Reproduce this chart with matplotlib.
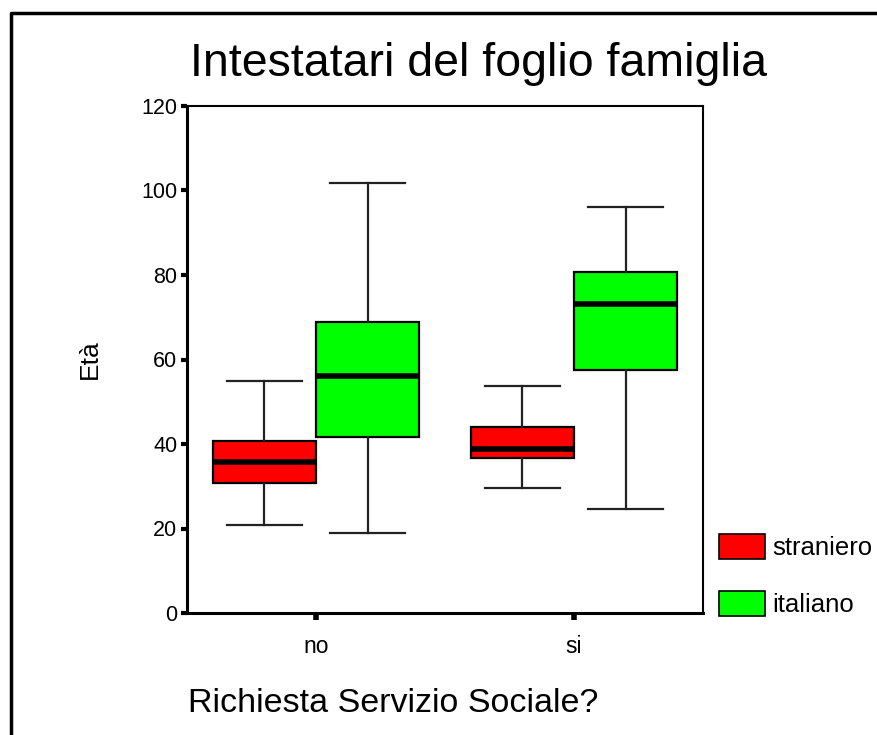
import matplotlib
matplotlib.use("Agg")
import matplotlib.pyplot as plt
from matplotlib.patches import Patch
from matplotlib.lines import Line2D

plt.rcParams['font.family'] = ['Liberation Sans', 'DejaVu Sans']

# Data: age of household heads by social-service request and citizenship
groups = ["no", "si"]
series = ["straniero", "italiano"]
colors = ["#ff0000", "#00ff00"]

whislo = {"straniero": [20.8, 29.6], "italiano": [18.9, 24.6]}
q1     = {"straniero": [30.8, 36.7], "italiano": [41.7, 57.5]}
med    = {"straniero": [35.8, 38.9], "italiano": [56.0, 73.1]}
q3     = {"straniero": [40.7, 44.1], "italiano": [68.8, 80.8]}
whishi = {"straniero": [55.0, 53.8], "italiano": [101.8, 96.0]}

yticks = [0, 20, 40, 60, 80, 100, 120]

fig = plt.figure(figsize=(8.77, 7.35), dpi=100)
ax = fig.add_axes([187/877, 1-613/735, (703-187)/877, (613-106)/735])

offsets = [-0.2, 0.2]
for s, name in enumerate(series):
    stats = []
    for g in range(len(groups)):
        stats.append(dict(whislo=whislo[name][g], q1=q1[name][g], med=med[name][g],
                          q3=q3[name][g], whishi=whishi[name][g], fliers=[]))
    ax.bxp(stats, positions=[g + offsets[s] for g in range(len(groups))],
           widths=0.4, patch_artist=True, showfliers=False,
           boxprops=dict(facecolor=colors[s], edgecolor='black', linewidth=1.6),
           medianprops=dict(color='black', linewidth=4, solid_capstyle='butt'),
           whiskerprops=dict(color='#222222', linewidth=1.6),
           capprops=dict(color='#222222', linewidth=1.6),
           capwidths=0.29, manage_ticks=False)

ax.set_xlim(-0.5, 1.5)
ax.set_ylim(0, 120)
ax.set_xticks(range(len(groups)))
ax.set_xticklabels(groups, fontsize=16.5)
ax.set_yticks(yticks)
ax.set_yticklabels([str(v) for v in yticks], fontsize=15.5)
ax.tick_params(axis='y', direction='out', length=4, width=3, pad=3)
ax.tick_params(axis='x', direction='out', length=5, width=4, pad=11)
for sp in ax.spines.values():
    sp.set_linewidth(1.5)
for sp in ('left', 'bottom'):
    ax.spines[sp].set_linewidth(2.2)

ax.set_ylabel("Età", fontsize=19, labelpad=28)
fig.text(188/877, 1-703/735, "Richiesta Servizio Sociale?", fontsize=24.5,
         ha='left', va='center')
fig.text(478/877, 1-64/735, "Intestatari del foglio famiglia", fontsize=33.5,
         ha='center', va='center')

handles = [Patch(facecolor=c, edgecolor='black', linewidth=1.2) for c in colors]
fig.legend(handles, series, loc='upper left', bbox_to_anchor=(714/877, 1-529/735),
           frameon=False, fontsize=18.5, handlelength=1.8, handleheight=1.1,
           handletextpad=0.25, labelspacing=1.2, borderpad=0.2, borderaxespad=0)

# partial frame around the chart area (top and left edges)
fig.add_artist(Line2D([11/877, 11/877, 1.0], [0.0, 1-13/735, 1-13/735],
                      transform=fig.transFigure, color='black', linewidth=2.5))

fig.savefig("out.png", dpi=100)
